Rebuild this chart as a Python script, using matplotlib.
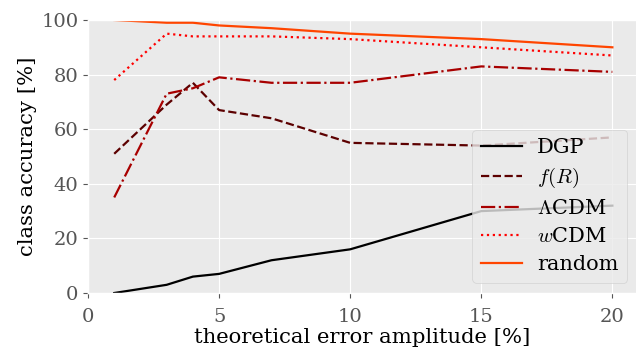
import matplotlib
matplotlib.use("Agg")
import matplotlib.pyplot as plt

# error amplitude [%]
amp = [1, 3, 4, 5, 7, 10, 15, 20]

# class accuracy [%]
dgp = [0, 3, 6, 7, 12, 16, 30, 32]
fr = [51, 69, 77, 67, 64, 55, 54, 57]
lcdm = [35, 73, 75, 79, 77, 77, 83, 81]
wcdm = [78, 95, 94, 94, 94, 93, 90, 87]
rnd = [100, 99, 99, 98, 97, 95, 93, 90]

plt.style.use('ggplot')
plt.rcParams['font.family'] = 'serif'
plt.rcParams['font.serif'] = ['DejaVu Serif']
plt.rcParams['mathtext.fontset'] = 'cm'
plt.rcParams['font.size'] = 14
plt.rcParams['axes.facecolor'] = '#EAEAEA'

fig = plt.figure(figsize=(6.36, 3.5), dpi=100)
ax = fig.add_axes([88/636, 1 - 293/350, 1 - 88/636 + 0.002, (293 - 20)/350])

ax.plot(amp, dgp, '-', color='black', lw=1.6, label='DGP')
ax.plot(amp, fr, '--', color='#5c0000', lw=1.6, label='$f(R)$')
ax.plot(amp, lcdm, '-.', color='#a80000', lw=1.6, label=r'$\Lambda$CDM')
ax.plot(amp, wcdm, ':', color='#ff0000', lw=1.6, label='$w$CDM')
ax.plot(amp, rnd, '-', color='#ff4500', lw=1.6, label='random')

ax.set_xlim(0, 20.95)
ax.set_ylim(0, 100)
ax.set_xticks([0, 5, 10, 15, 20])
ax.set_yticks([0, 20, 40, 60, 80, 100])
ax.tick_params(labelsize=14, colors='#555555')
ax.tick_params(axis='x', pad=7)
ax.set_xlabel('theoretical error amplitude [%]', fontsize=15.2, color='black', labelpad=2)
ax.set_ylabel('class accuracy [%]', fontsize=15.2, color='black', labelpad=3)
ax.legend(loc='lower right', fontsize=15, handlelength=2.0, labelspacing=0.43,
          borderpad=0.4, handletextpad=0.7)

fig.savefig('out.png', dpi=100)
